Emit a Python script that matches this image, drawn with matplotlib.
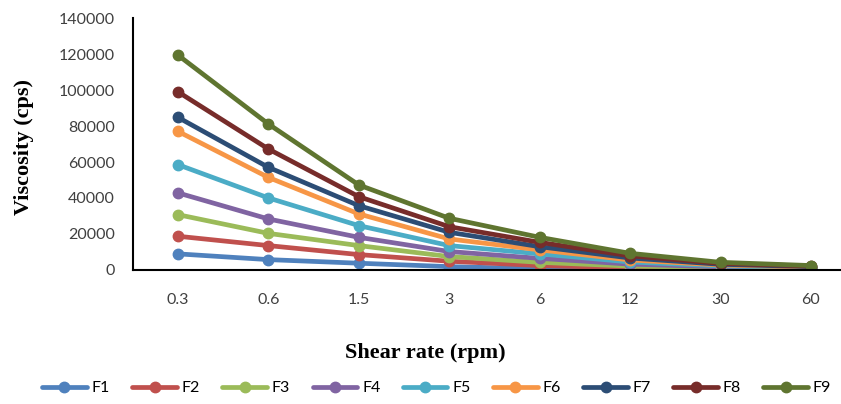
import matplotlib.pyplot as plt

# Shear rate categories (rpm) and viscosity (cps) per formulation
shear_rates = ["0.3", "0.6", "1.5", "3", "6", "12", "30", "60"]

f1 = [8900, 5700, 3700, 1800, 600, 300, 200, 100]
f2 = [18700, 13500, 8500, 4800, 2400, 1100, 800, 400]
f3 = [30700, 20300, 13500, 7400, 4200, 2100, 1300, 700]
f4 = [42800, 28300, 18100, 10200, 6400, 3200, 1700, 900]
f5 = [58500, 40000, 24600, 13500, 8900, 4400, 2200, 1200]
f6 = [77000, 51400, 31100, 17200, 11100, 5500, 2700, 1500]
f7 = [84800, 57000, 35700, 20900, 12900, 6600, 3100, 1800]
f8 = [99000, 67200, 40700, 24000, 15300, 7800, 3600, 2100]
f9 = [119400, 81100, 47200, 28700, 18100, 9200, 4200, 2400]

series = [("F1", f1), ("F2", f2), ("F3", f3), ("F4", f4), ("F5", f5),
          ("F6", f6), ("F7", f7), ("F8", f8), ("F9", f9)]

# Excel 2010 default palette
colors = ["#4F81BD", "#C0504D", "#9BBB59", "#8064A2", "#4BACC6",
          "#F79646", "#2C4D75", "#772C2A", "#5F7530"]

fig = plt.figure(figsize=(8.41, 4.04), dpi=100)
ax = fig.add_axes([0.158, 0.332, 0.86, 0.623])

x = list(range(len(shear_rates)))
for (name, vals), c in zip(series, colors):
    ax.plot(x, vals, color=c, linewidth=3.4, marker="o", markersize=7.5,
            label=name, solid_capstyle="round")

ax.set_xlim(-0.5, 7.5)
ax.set_ylim(0, 140000)
ax.set_yticks(range(0, 140001, 20000))
ax.set_xticks(x)
ax.set_xticklabels(shear_rates)
tick_font = "Lato"
for lab in ax.get_xticklabels() + ax.get_yticklabels():
    lab.set_fontfamily(tick_font)
    lab.set_fontsize(11.5)
    lab.set_color("#404040")
ax.tick_params(axis="y", length=0, pad=13)
ax.tick_params(axis="x", length=0, pad=17)

for side in ("top", "right"):
    ax.spines[side].set_visible(False)
ax.spines["left"].set_linewidth(1.5)
ax.spines["bottom"].set_linewidth(1.5)

ax.set_ylabel("Viscosity (cps)", fontfamily="Liberation Serif", fontweight="bold",
              fontsize=16)
ax.yaxis.set_label_coords(-0.137, 0.49)
ax.set_xlabel("Shear rate (rpm)", fontfamily="Liberation Serif", fontweight="bold",
              fontsize=16)
ax.xaxis.set_label_coords(0.404, -0.29)

ax.legend(loc="center", bbox_to_anchor=(0.42, -0.47), ncol=9, frameon=False,
          prop={"family": tick_font, "size": 11.5}, handlelength=2.8,
          columnspacing=1.4, handletextpad=0.3)

fig.savefig("out.png", dpi=100)
